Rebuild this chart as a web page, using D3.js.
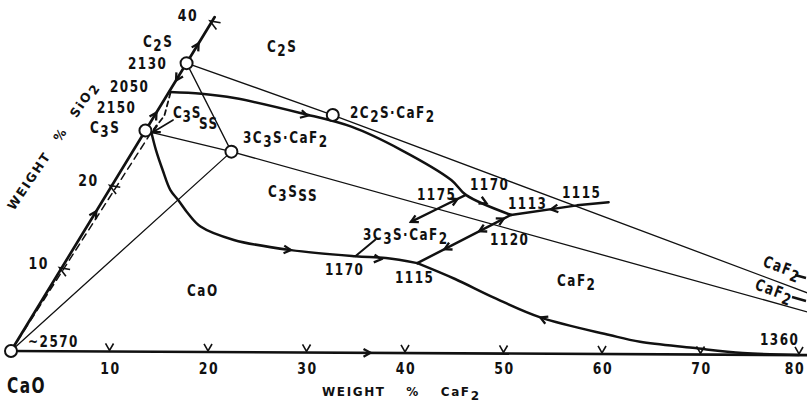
<!DOCTYPE html>
<html>
<head>
<meta charset="utf-8">
<script src="https://cdn.jsdelivr.net/npm/d3@7"></script>
<style>
body { margin: 0; background: #fff; }
svg text { font-family: "DejaVu Sans", sans-serif; font-weight: bold; fill: #111; }
</style>
</head>
<body>
<svg id="chart" width="807" height="404"></svg>
<script>
// all compositions are [wt% CaF2, wt% SiO2]
const compounds = ["CaO", "C2S", "C3S", "2C2S·CaF2", "3C3S·CaF2"];
const compoundPts = [[0, 0], [0, 35.0], [0, 26.8], [18.0, 28.8], [10.0, 24.3]];

const caf2Ticks = [10, 20, 30, 40, 50, 60, 70, 80];
const sio2Ticks = [10, 20, 40];

// liquidus boundaries (thick)
const bndC2S_C3Sss = [[0.05, 31.5], [3.4, 31.3], [7.0, 30.8], [14.7, 29.0], [20.6, 27.4], [27.1, 24.6], [34.0, 21.0], [36.4, 19.2], [42.2, 16.8]];
const bndCaO_C3Sss = [[0.7, 26.6], [2.3, 24.4], [4.2, 22.0], [6.2, 19.6], [7.6, 18.4], [9.4, 16.8], [11.5, 15.2], [15.7, 13.6], [22.1, 12.4], [29.0, 11.7], [32.2, 11.5], [35.7, 10.9]];
const bnd1120 = [[35.7, 10.9], [41.1, 15.8], [42.2, 16.8]];
const bnd1113 = [[42.2, 16.8], [48.3, 18.0], [51.3, 18.4]];
const bnd1175a = [[36.4, 19.2], [34.5, 17.6], [32.5, 15.9]];
const bnd1175b = [[30.0, 13.7], [29.0, 11.7]];
const bndCaF2 = [[35.7, 10.9], [40.5, 9.0], [45.5, 6.8], [51.5, 4.4], [59.6, 2.3], [63.1, 1.5], [68.8, 0.8], [74.2, 0.2], [80.0, 0]];
const bndNearEdge = [[0.2, 31.4], [1.0, 28.6], [0.7, 26.6]];

// binary edges
const edgeCaO_SiO2 = [[0, 0], [0, 40.6]];
const edgeCaO_CaF2 = [[0, 0], [81, 0]];
const dashedCaO_inv = [[0, 0], [0.7, 26.6]];

// thin joins
const joinC2S_CaF2 = [[0, 35.0], [18.0, 28.8], [78.5, 7.0]];
const joinC3S_CaF2 = [[0.7, 26.6], [10.0, 24.3], [79.0, 5.0]];
const joinCaO_3C3S = [[0, 0], [10.0, 24.3]];
const joinC2S_3C3S = [[0, 35.0], [10.0, 24.3]];

// arrows: [position, toward]
const arrowAt = [
  [[0, 17.0], [0, 18.0]],
  [[0, 29.0], [0, 30.0]],
  [[0, 32.9], [0, 31.9]],
  [[0, 37.4], [0, 38.4]],
  [[15.5, 28.7], [20.6, 27.4]],
  [[39.0, 18.2], [42.2, 16.8]],
  [[22.1, 12.4], [29.0, 11.7]],
  [[31.8, 11.35], [35.7, 10.9]],
  [[35.8, 18.7], [36.4, 19.2]],
  [[32.5, 15.9], [31.5, 15.05]],
  [[37.6, 12.6], [35.7, 10.9]],
  [[40.0, 14.8], [35.7, 10.9]],
  [[41.7, 16.35], [42.2, 16.8]],
  [[45.9, 17.5], [42.2, 16.8]],
  [[51.5, 4.4], [45.5, 6.8]],
  [[36.5, 0], [40, 0]],
  [[0.85, 26.6], [0.2, 25.9]]
];
const labelPointer = [[2.15, 28.1], [0.85, 26.6]];

// text annotations (layout)
const notes = [
  { t: "C{2}S", x: 143, y: 47 },
  { t: "2130", x: 128, y: 69 },
  { t: "2050", x: 110, y: 92 },
  { t: "2150", x: 97, y: 113 },
  { t: "C{3}S", x: 90, y: 133 },
  { t: "C{3}S", x: 173, y: 118, ls: 1 },
  { t: "SS", x: 199, y: 129 },
  { t: "C{2}S", x: 267, y: 52 },
  { t: "2C{2}S·CaF{2}", x: 350, y: 118 },
  { t: "3C{3}S·CaF{2}", x: 243, y: 143 },
  { t: "C{3}S{SS}", x: 268, y: 197 },
  { t: "1175", x: 417, y: 200 },
  { t: "1170", x: 470, y: 190 },
  { t: "1113", x: 508, y: 209 },
  { t: "1115", x: 562, y: 198 },
  { t: "3C{3}S·CaF{2}", x: 363, y: 240 },
  { t: "1120", x: 490, y: 245 },
  { t: "1170", x: 325, y: 275 },
  { t: "1115", x: 395, y: 283 },
  { t: "CaF{2}", x: 557, y: 286 },
  { t: "CaO", x: 187, y: 296 },
  { t: "~2570", x: 28, y: 347 },
  { t: "1360", x: 760, y: 345 },
  { t: "CaO", x: 7, y: 393, size: 22, sx: 0.7 }
];

const svg = d3.select("#chart");

const xF = d3.scaleLinear().domain([0, 80]).range([11, 799]);
const yS = d3.scaleLinear().domain([0, 40]).range([351, 21]);
const xS = d3.scaleLinear().domain([0, 40]).range([0, 199]);
function proj(d) { return [xF(d[0]) + xS(d[1]), yS(d[1])]; }

// the scan is tilted a bit
const g = svg.append("g").attr("transform", "rotate(0.29,11,351)");

const straight = d3.line().x(d => proj(d)[0]).y(d => proj(d)[1]);
const smooth = d3.line().x(d => proj(d)[0]).y(d => proj(d)[1]).curve(d3.curveCatmullRom);

function drawLine(data, gen, w, dash) {
  const p = g.append("path").attr("d", gen(data))
    .attr("fill", "none").attr("stroke", "#111")
    .attr("stroke-width", w).attr("stroke-linejoin", "round").attr("stroke-linecap", "round");
  if (dash) p.attr("stroke-dasharray", dash);
}

// thin joins
[joinC2S_CaF2, joinC3S_CaF2, joinCaO_3C3S, joinC2S_3C3S].forEach(d => drawLine(d, straight, 1.3));
drawLine(dashedCaO_inv, straight, 1.5, "7,5");

// edges
drawLine(edgeCaO_SiO2, straight, 2.7);
drawLine(edgeCaO_CaF2, straight, 2.7);

// boundaries
drawLine(bndC2S_C3Sss, smooth, 2.5);
drawLine(bndCaO_C3Sss, smooth, 2.5);
drawLine(bnd1120, straight, 2.5);
drawLine(bnd1113, straight, 2.5);
drawLine(bnd1175a, straight, 2.3);
drawLine(bnd1175b, straight, 2.0);
drawLine(bndCaF2, smooth, 2.5);
drawLine(bndNearEdge, straight, 1.8, "5,4");
drawLine(labelPointer, straight, 1.6);

// arrowheads
function arrowHead(p, ang, len) {
  const a1 = ang + Math.PI * 0.84, a2 = ang - Math.PI * 0.84;
  return "M" + (p[0] + len * Math.cos(a1)) + "," + (p[1] + len * Math.sin(a1)) +
    "L" + p[0] + "," + p[1] +
    "L" + (p[0] + len * Math.cos(a2)) + "," + (p[1] + len * Math.sin(a2));
}
arrowAt.forEach(a => {
  const p = proj(a[0]), q = proj(a[1]);
  const ang = Math.atan2(q[1] - p[1], q[0] - p[0]);
  g.append("path").attr("d", arrowHead(p, ang, 8))
    .attr("fill", "none").attr("stroke", "#111").attr("stroke-width", 2.3)
    .attr("stroke-linejoin", "miter");
});

// ticks on CaF2 axis
caf2Ticks.forEach(v => {
  const p = proj([v, 0]);
  g.append("path")
    .attr("d", "M" + (p[0] - 4) + "," + (p[1] - 8) + "L" + p[0] + "," + (p[1] - 1) + "L" + (p[0] + 4) + "," + (p[1] - 8))
    .attr("fill", "none").attr("stroke", "#111").attr("stroke-width", 1.6);
});
// ticks on SiO2 axis
const u0 = proj([0, 0]), u1 = proj([0, 1]);
const ul = Math.hypot(u1[0] - u0[0], u1[1] - u0[1]);
const ux = (u1[0] - u0[0]) / ul, uy = (u1[1] - u0[1]) / ul;
const nx = -uy, ny = ux;
sio2Ticks.forEach(v => {
  const p = proj([0, v]);
  const a = [p[0] + nx * 8 + ux * 4, p[1] + ny * 8 + uy * 4];
  const b = [p[0] + nx * 8 - ux * 4, p[1] + ny * 8 - uy * 4];
  g.append("path")
    .attr("d", "M" + a[0] + "," + a[1] + "L" + (p[0] - nx * 2) + "," + (p[1] - ny * 2) + "L" + b[0] + "," + b[1])
    .attr("fill", "none").attr("stroke", "#111").attr("stroke-width", 1.6);
});

// compound points
g.selectAll("circle.cmp").data(compoundPts).join("circle")
  .attr("class", "cmp")
  .attr("cx", d => proj(d)[0]).attr("cy", d => proj(d)[1])
  .attr("r", 6).attr("fill", "#fff").attr("stroke", "#111").attr("stroke-width", 2);

// text helpers
function rich(sel, str, sub) {
  const parts = str.split(/(\{[^}]*\})/).filter(p => p.length);
  let low = false;
  parts.forEach(p => {
    const isSub = p.charAt(0) === "{";
    const ts = sel.append("tspan").text(isSub ? p.slice(1, -1) : p);
    if (isSub && !low) { ts.attr("dy", sub); low = true; }
    else if (!isSub && low) { ts.attr("dy", -sub); low = false; }
  });
}
function note(x, y, str, size, sx, anchor, ls) {
  const t = svg.append("g").attr("transform", "translate(" + x + "," + y + ") scale(" + sx + ",1)")
    .append("text").attr("font-size", size).attr("text-anchor", anchor || "start")
    .attr("letter-spacing", ls == null ? 2 : ls);
  rich(t, str, size * 0.28);
  return t;
}

notes.forEach(n => note(n.x, n.y, n.t, n.size || 16, n.sx || 0.75, "start", n.ls));

// tick labels
caf2Ticks.forEach(v => {
  const p = proj([v, 0]);
  note(Math.min(p[0] + 1, 795), 374, String(v), 16, 0.78, "middle", 2);
});
sio2Ticks.forEach(v => {
  const p = proj([0, v]);
  note(p[0] - 22, p[1] + 0, String(v), 16, 0.78, "middle", 2);
});

// axis titles
svg.append("text").attr("x", 322).attr("y", 396).attr("font-size", 12)
  .attr("letter-spacing", 1.6).attr("word-spacing", 15)
  .call(t => rich(t, "WEIGHT % CaF{2}", 3.5));
svg.append("g").attr("transform", "translate(14,211) rotate(-56)")
  .append("text").attr("font-size", 12.5).attr("letter-spacing", 1.8).attr("word-spacing", 9)
  .call(t => rich(t, "WEIGHT % SiO{2}", 3));

// CaF2 direction labels at the right edge
[[762, 266], [754, 289]].forEach(p => {
  svg.append("g").attr("transform", "translate(" + p[0] + "," + p[1] + ") rotate(20) scale(0.75,1)")
    .append("text").attr("font-size", 16).attr("letter-spacing", 2)
    .call(t => rich(t, "CaF{2}", 4));
});
[[[795, 275], [806, 278]], [[792, 297], [806, 301]]].forEach(a => {
  svg.append("line").attr("x1", a[0][0]).attr("y1", a[0][1]).attr("x2", a[1][0]).attr("y2", a[1][1])
    .attr("stroke", "#111").attr("stroke-width", 2.4);
});
</script>
</body>
</html>
